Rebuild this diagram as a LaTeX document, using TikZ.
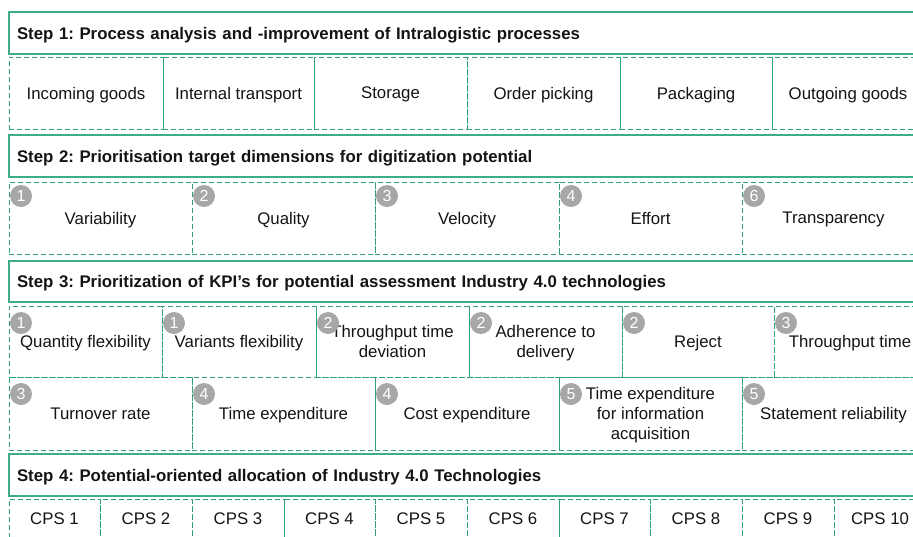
\documentclass[tikz,border=0pt]{standalone}
\usepackage{fontspec}
\setmainfont{Liberation Sans}
\usepackage{tikz}
\definecolor{stepgreen}{RGB}{46,160,126}
\definecolor{headgreen}{RGB}{62,172,138}
\definecolor{rankgray}{RGB}{166,167,166}
\definecolor{textblack}{RGB}{20,20,20}
\usetikzlibrary{positioning}
\frenchspacing
\tikzstyle{header} = [draw=headgreen, line width=1.2pt, rectangle, outer sep=0pt, minimum height=42pt, text width=898pt, inner xsep=8pt, text depth=0pt, align=left, text=textblack, font=\fontsize{16.8}{19}\selectfont\bfseries]
\tikzstyle{cell} = [draw=stepgreen, line width=1pt, dash pattern=on 5pt off 3pt, rectangle, outer sep=0pt, minimum height=72pt, text depth=0pt, align=center, text=textblack, font=\fontsize{16.8}{20}\selectfont]
\tikzstyle{rank} = [circle, fill=rankgray, text=white, minimum size=22pt, inner sep=0pt, font=\fontsize{16}{16}\selectfont]

\begin{document}
\begin{tikzpicture}[x=1pt, y=-1pt]
    \useasboundingbox (0,0) rectangle (913,536);

    % Step 1: processes
    \node [header, anchor=north west] (s1) at (9,12) {Step 1: Process analysis and -improvement of Intralogistic processes};
    \node [cell, minimum width=154pt, anchor=north west] (proc1) at (9,57) {Incoming goods};
    \node [cell, minimum width=151pt, right=0pt of proc1] (proc2) {Internal transport};
    \node [cell, minimum width=153pt, right=0pt of proc2] (proc3) {Storage};
    \node [cell, minimum width=153pt, right=0pt of proc3] (proc4) {Order picking};
    \node [cell, minimum width=152pt, right=0pt of proc4] (proc5) {Packaging};
    \node [cell, minimum width=152pt, right=0pt of proc5] (proc6) {Outgoing goods};

    % Step 2: target dimensions
    \node [header, anchor=north west] (s2) at (9,135) {Step 2: Prioritisation target dimensions for digitization potential};
    \node [cell, minimum width=183pt, anchor=north west] (dim1) at (9,182) {Variability};
    \node [cell, minimum width=183pt, right=0pt of dim1] (dim2) {Quality};
    \node [cell, minimum width=184pt, right=0pt of dim2] (dim3) {Velocity};
    \node [cell, minimum width=183pt, right=0pt of dim3] (dim4) {Effort};
    \node [cell, minimum width=183pt, right=0pt of dim4] (dim5) {Transparency};

    \node [rank] (r-dim1) at ([shift={(12pt,-14pt)}]dim1.north west) {1};
    \node [rank] (r-dim2) at ([shift={(12pt,-14pt)}]dim2.north west) {2};
    \node [rank] (r-dim3) at ([shift={(12pt,-14pt)}]dim3.north west) {3};
    \node [rank] (r-dim4) at ([shift={(12pt,-14pt)}]dim4.north west) {4};
    \node [rank] (r-dim5) at ([shift={(12pt,-14pt)}]dim5.north west) {6};

    % Step 3: KPIs
    \node [header, minimum height=41pt, anchor=north west] (s3) at (9,261) {Step 3: Prioritization of KPI’s for potential assessment Industry 4.0 technologies};
    \node [cell, minimum width=153pt, minimum height=71pt, anchor=north west] (kpia1) at (9,306) {Quantity flexibility};
    \node [cell, minimum width=154pt, minimum height=71pt, right=0pt of kpia1] (kpia2) {Variants flexibility};
    \node [cell, minimum width=153pt, minimum height=71pt, right=0pt of kpia2] (kpia3) {Throughput time\\deviation};
    \node [cell, minimum width=153pt, minimum height=71pt, right=0pt of kpia3] (kpia4) {Adherence to\\delivery};
    \node [cell, minimum width=152pt, minimum height=71pt, right=0pt of kpia4] (kpia5) {Reject};
    \node [cell, minimum width=152pt, minimum height=71pt, right=0pt of kpia5] (kpia6) {Throughput time};

    \node [cell, minimum width=183pt, minimum height=73pt, below right=0pt and 0pt of kpia1.south west] (kpib1) {Turnover rate};
    \node [cell, minimum width=183pt, minimum height=73pt, right=0pt of kpib1] (kpib2) {Time expenditure};
    \node [cell, minimum width=184pt, minimum height=73pt, right=0pt of kpib2] (kpib3) {Cost expenditure};
    \node [cell, minimum width=183pt, minimum height=73pt, right=0pt of kpib3] (kpib4) {Time expenditure\\for information\\acquisition};
    \node [cell, minimum width=183pt, minimum height=73pt, right=0pt of kpib4] (kpib5) {Statement reliability};

    \node [rank] (r-kpia1) at ([shift={(12pt,-17pt)}]kpia1.north west) {1};
    \node [rank] (r-kpia2) at ([shift={(12pt,-17pt)}]kpia2.north west) {1};
    \node [rank] (r-kpia3) at ([shift={(12pt,-17pt)}]kpia3.north west) {2};
    \node [rank] (r-kpia4) at ([shift={(12pt,-17pt)}]kpia4.north west) {2};
    \node [rank] (r-kpia5) at ([shift={(12pt,-17pt)}]kpia5.north west) {2};
    \node [rank] (r-kpia6) at ([shift={(12pt,-17pt)}]kpia6.north west) {3};
    \node [rank] (r-kpib1) at ([shift={(12pt,-17pt)}]kpib1.north west) {3};
    \node [rank] (r-kpib2) at ([shift={(12pt,-17pt)}]kpib2.north west) {4};
    \node [rank] (r-kpib3) at ([shift={(12pt,-17pt)}]kpib3.north west) {4};
    \node [rank] (r-kpib4) at ([shift={(12pt,-17pt)}]kpib4.north west) {5};
    \node [rank] (r-kpib5) at ([shift={(12pt,-17pt)}]kpib5.north west) {5};

    % Step 4: technologies
    \node [header, anchor=north west] (s4) at (9,454) {Step 4: Potential-oriented allocation of Industry 4.0 Technologies};
    \node [cell, minimum width=91pt, minimum height=40pt, anchor=north west] (cps1) at (9,499) {CPS 1};
    \node [cell, minimum width=92pt, minimum height=40pt, right=0pt of cps1] (cps2) {CPS 2};
    \node [cell, minimum width=92pt, minimum height=40pt, right=0pt of cps2] (cps3) {CPS 3};
    \node [cell, minimum width=91pt, minimum height=40pt, right=0pt of cps3] (cps4) {CPS 4};
    \node [cell, minimum width=92pt, minimum height=40pt, right=0pt of cps4] (cps5) {CPS 5};
    \node [cell, minimum width=92pt, minimum height=40pt, right=0pt of cps5] (cps6) {CPS 6};
    \node [cell, minimum width=91pt, minimum height=40pt, right=0pt of cps6] (cps7) {CPS 7};
    \node [cell, minimum width=92pt, minimum height=40pt, right=0pt of cps7] (cps8) {CPS 8};
    \node [cell, minimum width=92pt, minimum height=40pt, right=0pt of cps8] (cps9) {CPS 9};
    \node [cell, minimum width=92pt, minimum height=40pt, right=0pt of cps9] (cps10) {CPS 10};
\end{tikzpicture}
\end{document}
